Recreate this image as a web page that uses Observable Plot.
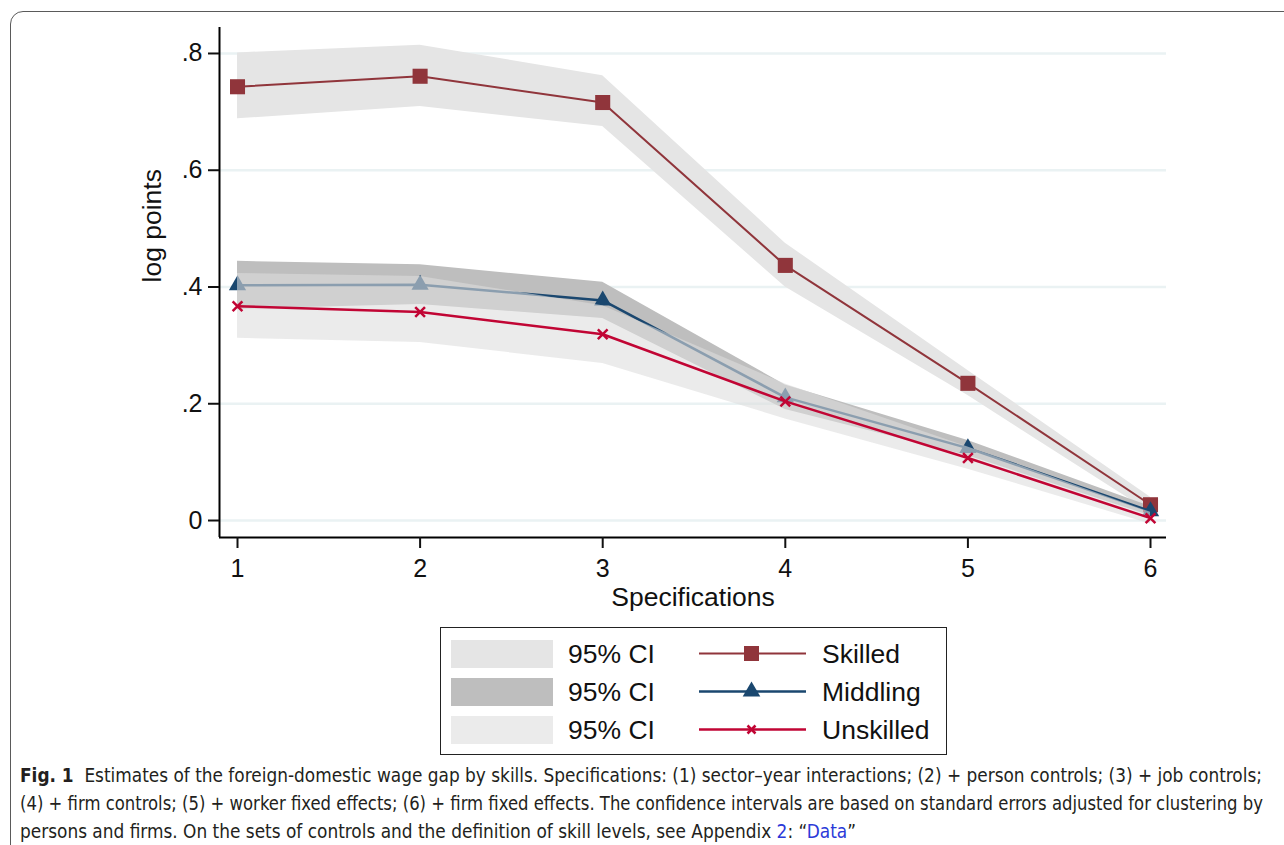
<!DOCTYPE html>
<html>
<head>
<meta charset="utf-8">
<script src="https://cdn.jsdelivr.net/npm/d3@7"></script>
<script src="https://cdn.jsdelivr.net/npm/@observablehq/plot@0.6"></script>
<style>
  html, body { margin:0; padding:0; background:#fff; overflow:hidden; }
  #page { position:relative; width:1284px; height:845px; overflow:hidden; font-family:"Liberation Sans", Arial, sans-serif; background:#fff; }
  #frame { position:absolute; left:10px; top:11px; width:1400px; height:1000px; border:1.5px solid #5a5a5a; border-radius:13px; box-sizing:border-box; z-index:5; pointer-events:none; }
  #chart { position:absolute; left:0; top:0; }
  #legend { position:absolute; left:440px; top:627px; width:507px; height:128px; border:1.5px solid #222; box-sizing:border-box; background:#fff; }
  .row { position:absolute; left:0; height:38px; width:100%; }
  .sw { position:absolute; left:10px; top:5px; width:102px; height:28px; }
  .lt { position:absolute; font-size:26.5px; line-height:38px; top:0; color:#111; white-space:nowrap; }
  .sym { position:absolute; left:258px; top:0; }
  #caption { position:absolute; left:20px; top:761px; color:#231f20; font-family:"Liberation Sans Narrow","DejaVu Sans Condensed","Liberation Sans",sans-serif; font-size:19px; }
  .cl { display:block; white-space:nowrap; height:28px; line-height:28px; transform-origin:0 50%; }
  .lk { color:#2b39d8; }
</style>
</head>
<body>
<div id="page">
  <div id="chart"></div>
  <div id="legend"></div>
  <div id="caption"></div>
  <div id="frame"></div>
</div>
<script>
// ---- data ----
const specs = [1, 2, 3, 4, 5, 6];
const skilled    = [0.743, 0.761, 0.716, 0.437, 0.235, 0.027];
const skilledLo  = [0.688, 0.709, 0.675, 0.400, 0.214, 0.014];
const skilledHi  = [0.801, 0.814, 0.762, 0.475, 0.257, 0.040];
const middling   = [0.403, 0.404, 0.377, 0.211, 0.124, 0.016];
const middlingLo = [0.362, 0.370, 0.346, 0.190, 0.111, 0.008];
const middlingHi = [0.444, 0.438, 0.408, 0.232, 0.137, 0.024];
const unskilled   = [0.367, 0.357, 0.319, 0.204, 0.107, 0.004];
const unskilledLo = [0.312, 0.305, 0.269, 0.174, 0.088, -0.006];
const unskilledHi = [0.423, 0.418, 0.368, 0.234, 0.126, 0.014];
const yTicks = [0, 0.2, 0.4, 0.6, 0.8];
const yTickLabels = ["0", ".2", ".4", ".6", ".8"];
const seriesNames = ["Skilled", "Middling", "Unskilled"];
const ciLabel = "95% CI";

const rows = (est, lo, hi) => specs.map((s, i) => ({spec: s, est: est[i], lo: lo[i], hi: hi[i]}));
const sk = rows(skilled, skilledLo, skilledHi);
const md = rows(middling, middlingLo, middlingHi);
const un = rows(unskilled, unskilledLo, unskilledHi);

const col = {sk: "#90353b", md: "#1a476f", un: "#c10534"};
const xDomain = [0.9014, 6.0876];
const yDomain = [-0.0291, 0.8445];

const chart = Plot.plot({
  width: 1284, height: 620,
  marginLeft: 219, marginRight: 118, marginTop: 27, marginBottom: 83,
  x: {domain: xDomain},
  y: {domain: yDomain},
  style: {fontFamily: "'Liberation Sans', Arial, sans-serif", background: "transparent", color: "#111"},
  marks: [
    Plot.gridY({ticks: yTicks, stroke: "#eaf2f3", strokeWidth: 2.5, strokeOpacity: 1}),
    Plot.areaY(sk, {x: "spec", y1: "lo", y2: "hi", fill: "#e5e5e5"}),
    Plot.areaY(md, {x: "spec", y1: "lo", y2: "hi", fill: "#bebebe"}),
    Plot.line(sk, {x: "spec", y: "est", stroke: col.sk, strokeWidth: 2}),
    Plot.dot(sk, {x: "spec", y: "est", symbol: "square", fill: col.sk, r: 8.5}),
    Plot.line(md, {x: "spec", y: "est", stroke: col.md, strokeWidth: 2.5}),
    Plot.dot(md, {x: "spec", y: "est", symbol: "triangle", fill: col.md, r: 6.4}),
    Plot.areaY(un, {x: "spec", y1: "lo", y2: "hi", fill: "#dddddd", fillOpacity: 0.585}),
    Plot.line(un, {x: "spec", y: "est", stroke: col.un, strokeWidth: 2.5}),
    Plot.dot(un, {x: "spec", y: "est", symbol: "times", stroke: col.un, strokeWidth: 2.5, r: 4.5}),
    Plot.ruleX([xDomain[0]], {stroke: "#000", strokeWidth: 2}),
    Plot.ruleY([yDomain[0]], {stroke: "#000", strokeWidth: 2}),
    Plot.axisY({ticks: yTicks, tickSize: 11, tickPadding: 6, fontSize: 25, strokeWidth: 2,
      tickFormat: d => yTickLabels[yTicks.indexOf(d)], label: null}),
    Plot.axisX({ticks: specs, tickSize: 11, tickPadding: 11, fontSize: 25, strokeWidth: 2,
      tickFormat: d => String(d), label: null}),
    Plot.text(["log points"], {text: d => d, frameAnchor: "left", dx: -67, rotate: -90, fontSize: 26.5}),
    Plot.text(["Specifications"], {text: d => d, frameAnchor: "bottom", dy: 68, fontSize: 26.5})
  ]
});
document.getElementById("chart").appendChild(chart);

// ---- legend ----
const legend = document.getElementById("legend");
const swatches = ["#e5e5e5", "#bebebe", "#ebebeb"];
const symbols = [
  `<rect x="45" y="11" width="15" height="15" fill="${col.sk}"/>`,
  `<path d="M52.5,8.5 L61.3,23.5 L43.7,23.5 Z" fill="${col.md}"/>`,
  `<path d="M48.5,14.5 L56.5,22.5 M56.5,14.5 L48.5,22.5" stroke="${col.un}" stroke-width="2.5"/>`
];
const lineCols = [col.sk, col.md, col.un];
seriesNames.forEach((name, i) => {
  const r = document.createElement("div");
  r.className = "row";
  r.style.top = (7 + i * 38) + "px";
  r.innerHTML =
    `<div class="sw" style="background:${swatches[i]}"></div>` +
    `<div class="lt" style="left:127px">${ciLabel}</div>` +
    `<svg class="sym" width="108" height="38"><line x1="0" x2="107" y1="18.5" y2="18.5" stroke="${lineCols[i]}" stroke-width="${i === 0 ? 2 : 2.5}"/>${symbols[i]}</svg>` +
    `<div class="lt" style="left:381px">${name}</div>`;
  legend.appendChild(r);
});

// ---- caption ----
const captionLines = [
  `<b>Fig. 1</b>&nbsp; Estimates of the foreign-domestic wage gap by skills. Specifications: (1) sector–year interactions; (2) + person controls; (3) + job controls;`,
  `(4) + firm controls; (5) + worker fixed effects; (6) + firm fixed effects. The confidence intervals are based on standard errors adjusted for clustering by`,
  `persons and firms. On the sets of controls and the definition of skill levels, see Appendix <span class="lk">2</span>: “<span class="lk">Data</span>”`
];
const captionWidths = [1242, 1243, 836];
const cap = document.getElementById("caption");
captionLines.forEach((html, i) => {
  const s = document.createElement("span");
  s.className = "cl";
  s.innerHTML = html;
  s.style.display = "inline-block";
  cap.appendChild(s);
  cap.appendChild(document.createElement("br"));
  const w = s.getBoundingClientRect().width;
  if (w > 0) s.style.transform = `scaleX(${captionWidths[i] / w})`;
});
</script>
</body>
</html>
